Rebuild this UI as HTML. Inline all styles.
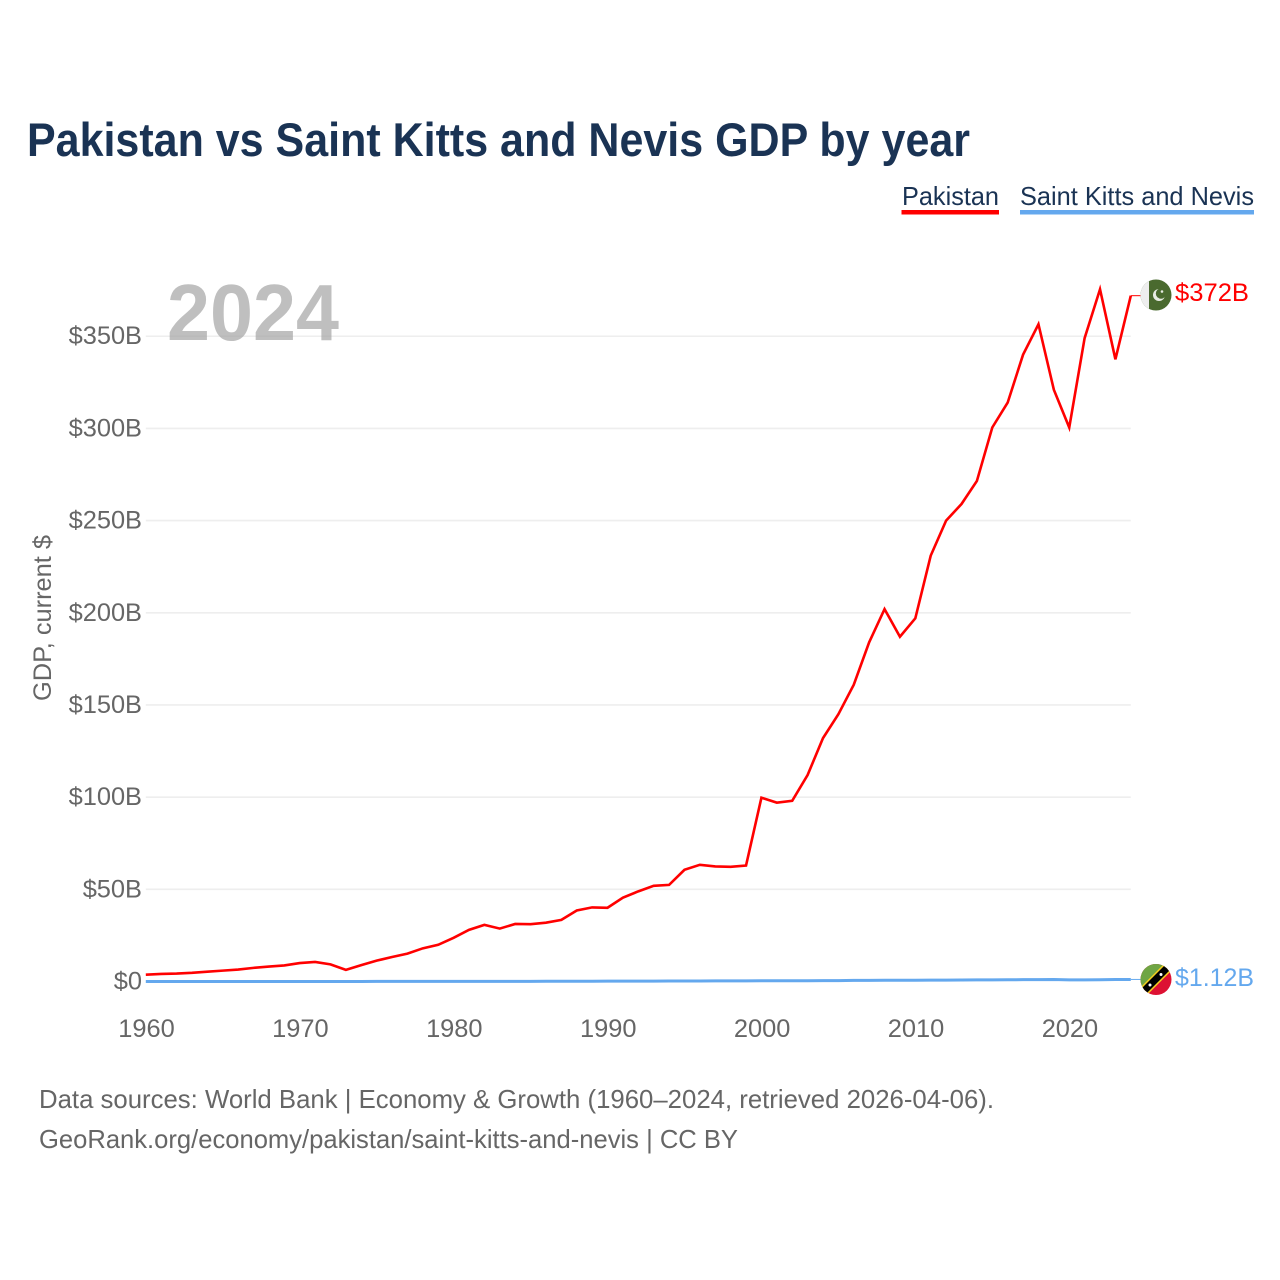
<!DOCTYPE html>
<html lang="en">
<head>
<meta charset="utf-8">
<title>Pakistan vs Saint Kitts and Nevis GDP by year</title>
<style>
html,body{margin:0;padding:0;background:#fff;}
svg{display:block;font-family:"Liberation Sans",sans-serif;}
</style>
</head>
<body>
<svg id="chart" width="1280" height="1280" viewBox="0 0 1280 1280" xmlns="http://www.w3.org/2000/svg">
  <rect width="1280" height="1280" fill="#ffffff"/>
  <text x="27" y="156" font-size="47" font-weight="700" fill="#1a3354" textLength="943" lengthAdjust="spacingAndGlyphs">Pakistan vs Saint Kitts and Nevis GDP by year</text>

  <g>
    <g>
      <text x="902" y="205" font-size="26" fill="#1a3354" textLength="97" lengthAdjust="spacingAndGlyphs">Pakistan</text>
      <rect x="901.5" y="210" width="97.5" height="4.5" fill="#ff0000"/>
    </g>
    <g>
      <text x="1020" y="205" font-size="26" fill="#1a3354" textLength="234" lengthAdjust="spacingAndGlyphs">Saint Kitts and Nevis</text>
      <rect x="1020" y="210" width="234" height="4.5" fill="#64a8ee"/>
    </g>
  </g>

  <g id="grid"></g>
  <g id="yticks"></g>
  <g id="xticks"></g>

  <text transform="translate(51,618) rotate(-90)" text-anchor="middle" font-size="25" fill="#666666" textLength="166" lengthAdjust="spacingAndGlyphs">GDP, current $</text>
  <text x="167" y="340" font-size="80" font-weight="700" fill="#a6a6a6" fill-opacity="0.72" textLength="172" lengthAdjust="spacingAndGlyphs">2024</text>

  <g id="series"></g>

  <g>
    <clipPath id="clip-pk"><circle cx="1156" cy="295" r="15.5"/></clipPath>
    <g clip-path="url(#clip-pk)">
      <rect x="1140" y="279" width="32" height="32" fill="#4a6a2f"/>
      <rect x="1140" y="279" width="9" height="32" fill="#eeeeee"/>
      <circle cx="1159" cy="295" r="6" fill="#e8ece4"/>
      <circle cx="1161" cy="293.5" r="5.2" fill="#4a6a2f"/>
      <circle cx="1162" cy="291.5" r="1.3" fill="#e8ece4"/>
    </g>
  </g>
  <g>
    <clipPath id="clip-kn"><circle cx="1156" cy="979.5" r="15.5"/></clipPath>
    <g clip-path="url(#clip-kn)">
      <rect x="1140" y="963" width="32" height="33" fill="#dd1133"/>
      <polygon points="1140,963 1172,963 1140,995" fill="#6fa544"/>
      <line x1="1140" y1="995" x2="1172" y2="963" stroke="#f5d020" stroke-width="10"/>
      <line x1="1140" y1="995" x2="1172" y2="963" stroke="#000000" stroke-width="7"/>
      <circle cx="1150" cy="985" r="1.5" fill="#ffffff"/>
      <circle cx="1161" cy="974.5" r="1.5" fill="#ffffff"/>
    </g>
  </g>

  <text x="1175" y="301" font-size="25" fill="#ff0000" textLength="74" lengthAdjust="spacingAndGlyphs">$372B</text>
  <text x="1175" y="986" font-size="25" fill="#64a8ee" textLength="79" lengthAdjust="spacingAndGlyphs">$1.12B</text>

  <text x="39" y="1108" font-size="26" fill="#666666" textLength="955" lengthAdjust="spacingAndGlyphs">Data sources: World Bank | Economy &amp; Growth (1960–2024, retrieved 2026-04-06).</text>
  <text x="39" y="1148" font-size="26" fill="#666666" textLength="699" lengthAdjust="spacingAndGlyphs">GeoRank.org/economy/pakistan/saint-kitts-and-nevis | CC BY</text>
</svg>

<script>
const years = [1960,1961,1962,1963,1964,1965,1966,1967,1968,1969,1970,1971,1972,1973,1974,1975,1976,1977,1978,1979,1980,1981,1982,1983,1984,1985,1986,1987,1988,1989,1990,1991,1992,1993,1994,1995,1996,1997,1998,1999,2000,2001,2002,2003,2004,2005,2006,2007,2008,2009,2010,2011,2012,2013,2014,2015,2016,2017,2018,2019,2020,2021,2022,2023,2024];
const pakistanGdp = [3.7,4.1,4.3,4.7,5.3,5.9,6.5,7.4,8.1,8.7,10.0,10.6,9.3,6.3,8.9,11.3,13.3,15.1,18.0,19.9,23.7,28.0,30.7,28.7,31.2,31.1,31.9,33.4,38.5,40.2,40.0,45.5,48.9,51.9,52.4,60.6,63.3,62.4,62.2,62.9,99.7,97.0,98.0,112,132,145,161,184,202,187,197,231,250,259,271.5,300.5,314,340,356.5,321,300.5,349,375.5,337.5,372];
const stKittsGdp = [0.012,0.013,0.014,0.015,0.016,0.017,0.018,0.019,0.02,0.02,0.02,0.02,0.03,0.03,0.03,0.04,0.04,0.04,0.05,0.06,0.07,0.08,0.08,0.08,0.09,0.1,0.11,0.13,0.15,0.17,0.18,0.2,0.22,0.23,0.26,0.28,0.3,0.33,0.35,0.37,0.39,0.42,0.44,0.44,0.48,0.5,0.59,0.62,0.71,0.69,0.7,0.72,0.73,0.78,0.85,0.88,0.92,0.99,1.02,1.05,0.86,0.89,0.98,1.06,1.12];
const yTickValues = [0,50,100,150,200,250,300,350];
const yTickLabels = ["$0","$50B","$100B","$150B","$200B","$250B","$300B","$350B"];
const xTickValues = [1960,1970,1980,1990,2000,2010,2020];

const xScale = function (year) { return 145.8 + (year - 1960) * (1130.8 - 145.8) / (2024 - 1960); };
const yScale = function (value) { return 981.5 - value * 1.8436; };
const NS = "http://www.w3.org/2000/svg";

const grid = document.getElementById("grid");
const yticks = document.getElementById("yticks");
const xticks = document.getElementById("xticks");
const series = document.getElementById("series");

yTickValues.forEach(function (value, i) {
  if (value > 0) {
    const line = document.createElementNS(NS, "line");
    
    
    line.setAttribute("x1", xScale(1960));
    line.setAttribute("x2", xScale(2024));
    line.setAttribute("y1", yScale(value));
    line.setAttribute("y2", yScale(value));
    line.setAttribute("stroke", "#eeeeee");
    line.setAttribute("stroke-width", "1.6");
    grid.appendChild(line);
  }
  const label = document.createElementNS(NS, "text");
  
  
  label.setAttribute("x", 142);
  label.setAttribute("y", yScale(value) + 8);
  label.setAttribute("text-anchor", "end");
  label.setAttribute("font-size", "25.4");
  label.setAttribute("fill", "#666666");
  label.textContent = yTickLabels[i];
  yticks.appendChild(label);
});

xTickValues.forEach(function (year) {
  const label = document.createElementNS(NS, "text");
  
  
  label.setAttribute("x", xScale(year) + 0.7);
  label.setAttribute("y", 1037);
  label.setAttribute("text-anchor", "middle");
  label.setAttribute("font-size", "25.4");
  label.setAttribute("fill", "#666666");
  label.textContent = year;
  xticks.appendChild(label);
});

function linePoints(values) {
  return values.map(function (value, i) {
    return xScale(years[i]).toFixed(2) + "," + yScale(value).toFixed(2);
  }).join(" ");
}

const stKittsLine = document.createElementNS(NS, "polyline");


stKittsLine.setAttribute("points", linePoints(stKittsGdp));
stKittsLine.setAttribute("fill", "none");
stKittsLine.setAttribute("stroke", "#64a8ee");
stKittsLine.setAttribute("stroke-width", "3");
series.appendChild(stKittsLine);

const pakistanLine = document.createElementNS(NS, "polyline");


pakistanLine.setAttribute("points", linePoints(pakistanGdp));
pakistanLine.setAttribute("fill", "none");
pakistanLine.setAttribute("stroke", "#ff0000");
pakistanLine.setAttribute("stroke-width", "2.6");
pakistanLine.setAttribute("stroke-linejoin", "miter");
series.appendChild(pakistanLine);

const lastIndex = years.length - 1;

const pakistanConnector = document.createElementNS(NS, "line");


pakistanConnector.setAttribute("x1", xScale(years[lastIndex]));
pakistanConnector.setAttribute("x2", 1142);
pakistanConnector.setAttribute("y1", yScale(pakistanGdp[lastIndex]));
pakistanConnector.setAttribute("y2", yScale(pakistanGdp[lastIndex]));
pakistanConnector.setAttribute("stroke", "#ff0000");
pakistanConnector.setAttribute("stroke-width", "1");
series.appendChild(pakistanConnector);

const stKittsConnector = document.createElementNS(NS, "line");


stKittsConnector.setAttribute("x1", xScale(years[lastIndex]));
stKittsConnector.setAttribute("x2", 1142);
stKittsConnector.setAttribute("y1", yScale(stKittsGdp[lastIndex]));
stKittsConnector.setAttribute("y2", yScale(stKittsGdp[lastIndex]));
stKittsConnector.setAttribute("stroke", "#64a8ee");
stKittsConnector.setAttribute("stroke-width", "1");
series.appendChild(stKittsConnector);
</script>
</body>
</html>
